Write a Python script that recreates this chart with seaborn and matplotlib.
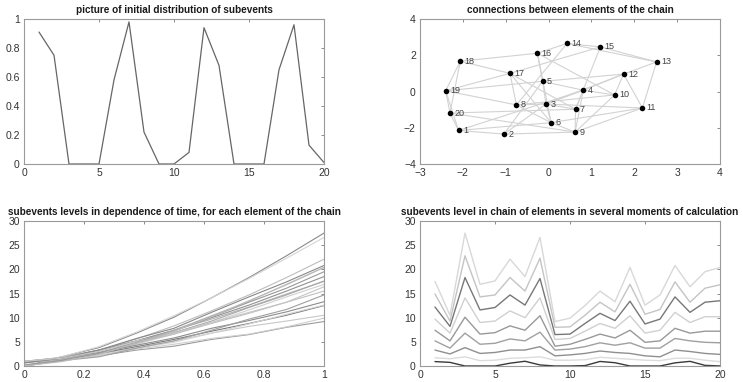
import numpy as np
import pandas as pd
import seaborn as sns
import matplotlib
matplotlib.use('Agg')
import matplotlib.pyplot as plt

# initial distribution of subevents over the 20 elements
elements = list(range(1, 21))
initial = [0.91, 0.75, 0, 0, 0, 0.58, 0.98, 0.22, 0, 0,
           0.08, 0.94, 0.68, 0, 0, 0, 0.65, 0.96, 0.13, 0.01]

# node positions of the chain
node_x = [-2.10, -1.04, -0.06, 0.81, -0.14, 0.06, 0.63, -0.75, 0.62, 1.54,
          2.19, 1.75, 2.52, 0.43, 1.21, -0.26, -0.90, -2.06, -2.40, -2.30]
node_y = [-2.15, -2.35, -0.69, 0.07, 0.56, -1.72, -0.98, -0.74, -2.24, -0.19,
          -0.91, 0.96, 1.63, 2.65, 2.46, 2.11, 1.00, 1.67, 0.04, -1.19]
edges = [(18, 16), (16, 14), (14, 15), (14, 13), (15, 13), (18, 17), (18, 19),
         (18, 20), (19, 20), (19, 1), (20, 1), (19, 17), (19, 5), (5, 12),
         (19, 8), (20, 9), (1, 2), (1, 4), (1, 6), (2, 9), (15, 7), (14, 8),
         (16, 5), (16, 6), (16, 10), (17, 8), (17, 7), (17, 6), (17, 15),
         (12, 13), (12, 11), (13, 11), (12, 4), (12, 3), (12, 10), (8, 10),
         (11, 3), (11, 9), (11, 6), (10, 9), (4, 7), (4, 9), (4, 10), (3, 7),
         (6, 9), (7, 9), (3, 6), (2, 3), (2, 5), (8, 3), (8, 6), (3, 4),
         (3, 5), (5, 4), (20, 7)]

# subevent levels in several moments of calculation (rows: moments)
moments = [0.0, 0.125, 0.25, 0.375, 0.5, 0.625, 0.75, 0.875, 1.0]
levels = [
    initial,
    [1.7, 1.5, 1.9, 1.1, 1.2, 1.6, 1.7, 1.9, 1.2, 1.2, 1.3, 1.8, 1.6, 1.4, 1.2, 1.1, 1.6, 1.6, 1.2, 0.9],
    [3.3, 2.5, 3.8, 2.6, 2.8, 3.3, 3.3, 4.0, 2.1, 2.3, 2.6, 3.1, 2.8, 2.6, 2.1, 1.9, 3.3, 3.0, 2.6, 2.4],
    [5.2, 3.7, 6.8, 4.5, 4.7, 5.6, 5.2, 7.0, 3.3, 3.5, 4.0, 4.8, 4.3, 4.8, 3.7, 3.7, 5.7, 5.2, 4.9, 4.8],
    [7.4, 5.2, 10.1, 6.6, 6.9, 8.3, 7.4, 10.4, 4.1, 4.5, 5.5, 6.6, 5.8, 7.4, 4.9, 5.2, 7.8, 6.8, 7.2, 7.2],
    [9.7, 6.8, 14.1, 9.0, 9.3, 11.4, 10.0, 14.1, 5.5, 5.7, 7.2, 8.8, 7.8, 10.4, 6.8, 7.4, 11.1, 9.0, 10.2, 10.2],
    [12.2, 8.2, 18.3, 11.6, 12.1, 14.7, 12.6, 18.1, 6.5, 6.6, 8.8, 10.9, 9.4, 13.4, 8.7, 9.7, 14.3, 11.1, 13.2, 13.5],
    [14.9, 9.3, 22.8, 14.3, 14.7, 18.3, 15.5, 22.3, 8.0, 8.1, 10.5, 13.2, 11.2, 16.9, 10.7, 11.7, 17.4, 13.2, 16.1, 16.8],
    [17.5, 10.5, 27.5, 16.9, 17.6, 22.1, 18.5, 26.6, 9.2, 9.9, 12.5, 15.5, 13.3, 20.4, 12.6, 14.7, 20.8, 16.4, 19.5, 20.4],
]
moment_colors = ['#3a3a3a', '#dcdcdc', '#8f8f8f', '#a0a0a0', '#999999',
                 '#d0d0d0', '#777777', '#c4c4c4', '#d8d8d8']
element_colors = ['#b0b0b0', '#c8c8c8', '#8a8a8a', '#d0d0d0', '#a8a8a8',
                  '#bdbdbd', '#909090', '#d5d5d5', '#9a9a9a', '#cfcfcf',
                  '#7a7a7a', '#c0c0c0', '#8c8c8c', '#b5b5b5', '#d2d2d2',
                  '#a0a0a0', '#888888', '#c5c5c5', '#999999', '#bcbcbc']

sns.set_theme(style='white')
plt.rcParams['font.family'] = ['Liberation Sans', 'DejaVu Sans']

fig = plt.figure(figsize=(7.43, 3.82), dpi=100)
W, H = 743, 382
def box(l, t, r, b):
    return [l / W, 1 - b / H, (r - l) / W, (b - t) / H]

ax1 = fig.add_axes(box(24, 19, 324, 164))
ax2 = fig.add_axes(box(420, 19, 720, 164))
ax3 = fig.add_axes(box(24, 221, 324, 366))
ax4 = fig.add_axes(box(420, 221, 720, 366))

# 1. initial distribution
sns.lineplot(x=elements, y=initial, color='#666666', linewidth=0.9, ax=ax1)
ax1.set_xlim(0, 20)
ax1.set_ylim(0, 1)
ax1.set_xticks([0, 5, 10, 15, 20])
ax1.set_yticks([0, 0.2, 0.4, 0.6, 0.8, 1])
ax1.set_yticklabels(['0', '0.2', '0.4', '0.6', '0.8', '1'])
ax1.set_title('picture of initial distribution of subevents')

# 2. connections
for a, b in edges:
    ax2.plot([node_x[a - 1], node_x[b - 1]], [node_y[a - 1], node_y[b - 1]],
             color='#d2d2d2', linewidth=0.8, zorder=1)
sns.scatterplot(x=node_x, y=node_y, color='black', s=16, edgecolor='black',
                linewidth=0, ax=ax2, zorder=3)
for i, n in enumerate(elements):
    ax2.text(node_x[i] + 0.1, node_y[i], str(n), fontsize=6.5, color='#444444',
             va='center', ha='left')
ax2.set_xlim(-3, 4)
ax2.set_ylim(-4, 4)
ax2.set_xticks(range(-3, 5))
ax2.set_yticks([-4, -2, 0, 2, 4])
ax2.set_title('connections between elements of the chain')

# 3. levels in time for each element
df3 = pd.DataFrame([(e, moments[k], levels[k][e - 1]) for e in elements
                    for k in range(len(moments))],
                   columns=['element', 'time', 'level'])
sns.lineplot(data=df3, x='time', y='level', hue='element', palette=element_colors,
             legend=False, estimator=None, linewidth=0.8, ax=ax3)
ax3.set_xlim(0, 1)
ax3.set_ylim(0, 30)
ax3.set_xticks([0, 0.2, 0.4, 0.6, 0.8, 1])
ax3.set_xticklabels(['0', '0.2', '0.4', '0.6', '0.8', '1'])
ax3.set_yticks([0, 5, 10, 15, 20, 25, 30])
ax3.set_title('subevents levels in dependence of time, for each element of the chain')

# 4. chain levels at several moments
df4 = pd.DataFrame([(k, e, levels[k][e - 1]) for k in range(len(moments))
                    for e in elements],
                   columns=['moment', 'element', 'level'])
sns.lineplot(data=df4, x='element', y='level', hue='moment', palette=moment_colors,
             legend=False, estimator=None, linewidth=1.0, ax=ax4)
ax4.set_xlim(0, 20)
ax4.set_ylim(0, 30)
ax4.set_xticks([0, 5, 10, 15, 20])
ax4.set_yticks([0, 5, 10, 15, 20, 25, 30])
ax4.set_title('subevents level in chain of elements in several moments of calculation')

for ax in (ax1, ax2, ax3, ax4):
    ax.set_xlabel('')
    ax.set_ylabel('')
    ax.set_title(ax.get_title(), fontsize=7.2, fontweight='bold', color='#1a1a1a', pad=4.5)
    ax.tick_params(direction='in', length=2.5, width=0.6, top=True, right=True,
                   labelsize=7.5, labelcolor='#333333', color='#777777', pad=3)
    for s in ax.spines.values():
        s.set_color('#9a9a9a')
        s.set_linewidth(0.8)

fig.savefig('out.png', dpi=100)
